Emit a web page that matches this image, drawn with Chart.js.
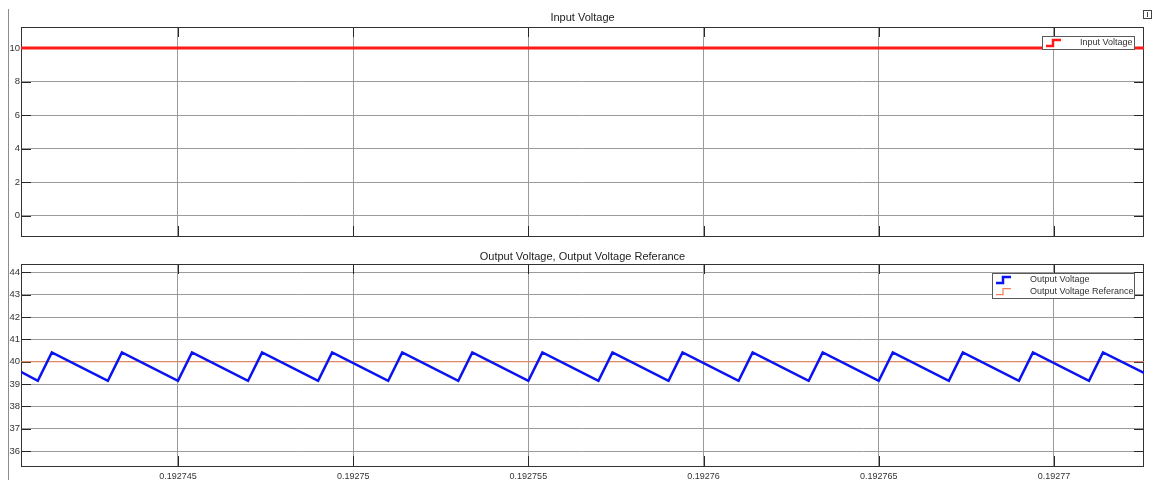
<!DOCTYPE html>
<html>
<head>
<meta charset="utf-8">
<script src="https://cdn.jsdelivr.net/npm/chart.js@4.4.1/dist/chart.umd.min.js"></script>
<style>
  html, body { margin: 0; padding: 0; background: #fff; width: 1153px; height: 480px; overflow: hidden; }
  #wrap { position: relative; width: 1153px; height: 480px; }
  canvas { position: absolute; left: 0; }
  #topChart { top: 0; }
  #botChart { top: 240px; }
  #edge { position: absolute; left: 8px; top: 9px; width: 1px; height: 471px; background: #8c8c8c; }
  #undock { position: absolute; left: 1143px; top: 10px; width: 7px; height: 7px; border: 1px solid #444; }
  #undock:after { content: ''; position: absolute; left: 3px; top: 1px; width: 1px; height: 5px; background: #444; }
</style>
</head>
<body>
<div id="wrap">
  <div id="edge"></div>
  <div id="undock"></div>
  <canvas id="topChart" width="1153" height="240"></canvas>
  <canvas id="botChart" width="1153" height="240"></canvas>
</div>
<script>
// time axis (seconds)
const xRange      = [0.19274052, 0.19277257];
const xTicks      = [0.192745, 0.19275, 0.192755, 0.19276, 0.192765, 0.19277];
const xTickLabels = ['0.192745', '0.19275', '0.192755', '0.19276', '0.192765', '0.19277'];

// input voltage
const inputTime  = [0.19274052, 0.19277257];
const inputValue = [10, 10];
const topYRange  = [-1.2, 11.25];
const topYTicks  = [0, 2, 4, 6, 8, 10];

// output voltage (ripple corners) and reference
const outputTime = [
  0.19274052, 0.192741, 0.1927414, 0.192743, 0.1927434, 0.192745, 0.1927454,
  0.192747, 0.1927474, 0.192749, 0.1927494, 0.192751, 0.1927514, 0.192753,
  0.1927534, 0.192755, 0.1927554, 0.192757, 0.1927574, 0.192759, 0.1927594,
  0.192761, 0.1927614, 0.192763, 0.1927634, 0.192765, 0.1927654, 0.192767,
  0.1927674, 0.192769, 0.1927694, 0.192771, 0.1927714, 0.19277257
];
const outputValue = [
  39.55, 39.15, 40.42, 39.15, 40.42, 39.15, 40.42,
  39.15, 40.42, 39.15, 40.42, 39.15, 40.42, 39.15,
  40.42, 39.15, 40.42, 39.15, 40.42, 39.15, 40.42,
  39.15, 40.42, 39.15, 40.42, 39.15, 40.42, 39.15,
  40.42, 39.15, 40.42, 39.15, 40.42, 39.5
];
const refTime   = [0.19274052, 0.19277257];
const refValue  = [40, 40];
const botYRange = [35.34, 44.37];
const botYTicks = [36, 37, 38, 39, 40, 41, 42, 43, 44];

const FONT = "'Liberation Sans', Arial, Helvetica, sans-serif";
Chart.defaults.font.family = FONT;
Chart.defaults.color = '#333';

function pts(xs, ys) {
  return xs.map((x, i) => ({ x, y: ys[i] }));
}

// scope-style frame: inner tick marks, box, title, step-icon legend
const scopeFrame = {
  id: 'scopeFrame',
  beforeDatasetsDraw(chart) {
    const { ctx, chartArea: a, scales } = chart;
    ctx.save();
    ctx.strokeStyle = '#262626';
    ctx.lineWidth = 1;
    ctx.beginPath();
    scales.y.ticks.forEach(t => {
      const y = Math.round(scales.y.getPixelForValue(t.value)) + 0.5;
      ctx.moveTo(a.left, y);  ctx.lineTo(a.left + 10, y);
      ctx.moveTo(a.right, y); ctx.lineTo(a.right - 10, y);
    });
    scales.x.ticks.forEach(t => {
      const x = Math.round(scales.x.getPixelForValue(t.value)) + 0.5;
      ctx.moveTo(x, a.top);    ctx.lineTo(x, a.top + 10);
      ctx.moveTo(x, a.bottom); ctx.lineTo(x, a.bottom - 10);
    });
    ctx.stroke();
    ctx.strokeStyle = '#333';
    ctx.strokeRect(Math.round(a.left) + 0.5, Math.round(a.top) + 0.5,
                   Math.round(a.right - a.left) - 1, Math.round(a.bottom - a.top));
    ctx.restore();
  },
  afterDraw(chart, args, opts) {
    const { ctx, chartArea: a } = chart;
    ctx.save();
    // title
    ctx.fillStyle = '#222';
    ctx.font = '11px ' + FONT;
    ctx.textAlign = 'center';
    ctx.textBaseline = 'middle';
    ctx.fillText(opts.title, (a.left + a.right) / 2, opts.titleY);

    // legend box
    const w = opts.legendWidth, h = opts.legendHeight;
    const right = Math.round(a.right) - 9, left = right - w, top = Math.round(a.top) + 9;
    ctx.fillStyle = '#fff';
    ctx.fillRect(left, top, w, h);
    ctx.strokeStyle = '#5a5a5a';
    ctx.lineWidth = 1;
    ctx.strokeRect(left + 0.5, top + 0.5, w - 1, h - 1);

    ctx.font = '9px ' + FONT;
    ctx.textAlign = 'left';
    chart.data.datasets.forEach((ds, i) => {
      const cy = top + 7 + i * 11.6;
      ctx.strokeStyle = ds.borderColor;
      ctx.lineWidth = Math.min(ds.borderWidth, 2.5);
      ctx.beginPath();
      ctx.moveTo(left + 4, cy + 3);
      ctx.lineTo(left + 11, cy + 3);
      ctx.lineTo(left + 11, cy - 3);
      ctx.lineTo(left + 19, cy - 3);
      ctx.stroke();
      ctx.fillStyle = '#333';
      ctx.fillText(ds.label, left + 38, cy);
    });
    ctx.restore();
  }
};

function makeOptions(yRange, yTicks, showXLabels, frame) {
  return {
    responsive: false,
    animation: false,
    layout: { padding: { top: frame.padTop, right: 9, left: 0, bottom: 0 } },
    elements: { point: { radius: 0 }, line: { tension: 0 } },
    plugins: {
      legend: { display: false },
      tooltip: { enabled: false },
      title: { display: false },
      scopeFrame: frame
    },
    scales: {
      x: {
        type: 'linear',
        min: xRange[0],
        max: xRange[1],
        afterBuildTicks: s => { s.ticks = xTicks.map(v => ({ value: v })); },
        afterFit: s => {
          s.height = showXLabels ? 14 : 4;
          s.paddingLeft = s.paddingRight = 0;
        },
        grid: { color: '#9b9b9b', drawTicks: false },
        border: { display: false },
        ticks: {
          display: showXLabels,
          padding: 5,
          maxRotation: 0,
          autoSkip: false,
          font: { size: 9 },
          color: '#333',
          callback: (v, i) => xTickLabels[i]
        }
      },
      y: {
        min: yRange[0],
        max: yRange[1],
        afterBuildTicks: s => { s.ticks = yTicks.map(v => ({ value: v })); },
        afterFit: s => {
          s.width = 21;
          s.paddingTop = s.paddingBottom = 0;
        },
        grid: { color: '#9b9b9b', drawTicks: false },
        border: { display: false },
        ticks: {
          padding: 1,
          autoSkip: false,
          font: { size: 9.5 },
          color: '#333',
          callback: v => String(v)
        }
      }
    }
  };
}

new Chart(document.getElementById('topChart'), {
  type: 'line',
  data: {
    datasets: [{
      label: 'Input Voltage',
      data: pts(inputTime, inputValue),
      borderColor: '#ff1a1a',
      borderWidth: 3
    }]
  },
  options: makeOptions(topYRange, topYTicks, false,
    { title: 'Input Voltage', titleY: 18, padTop: 27, legendWidth: 93, legendHeight: 14 }),
  plugins: [scopeFrame]
});

new Chart(document.getElementById('botChart'), {
  type: 'line',
  data: {
    datasets: [{
      label: 'Output Voltage',
      data: pts(outputTime, outputValue),
      borderColor: '#0a14f0',
      borderWidth: 2.5
    }, {
      label: 'Output Voltage Referance',
      data: pts(refTime, refValue),
      borderColor: '#f0805a',
      borderWidth: 1.2
    }]
  },
  options: makeOptions(botYRange, botYTicks, true,
    { title: 'Output Voltage, Output Voltage Referance', titleY: 17, padTop: 24, legendWidth: 143, legendHeight: 26 }),
  plugins: [scopeFrame]
});
</script>
</body>
</html>
